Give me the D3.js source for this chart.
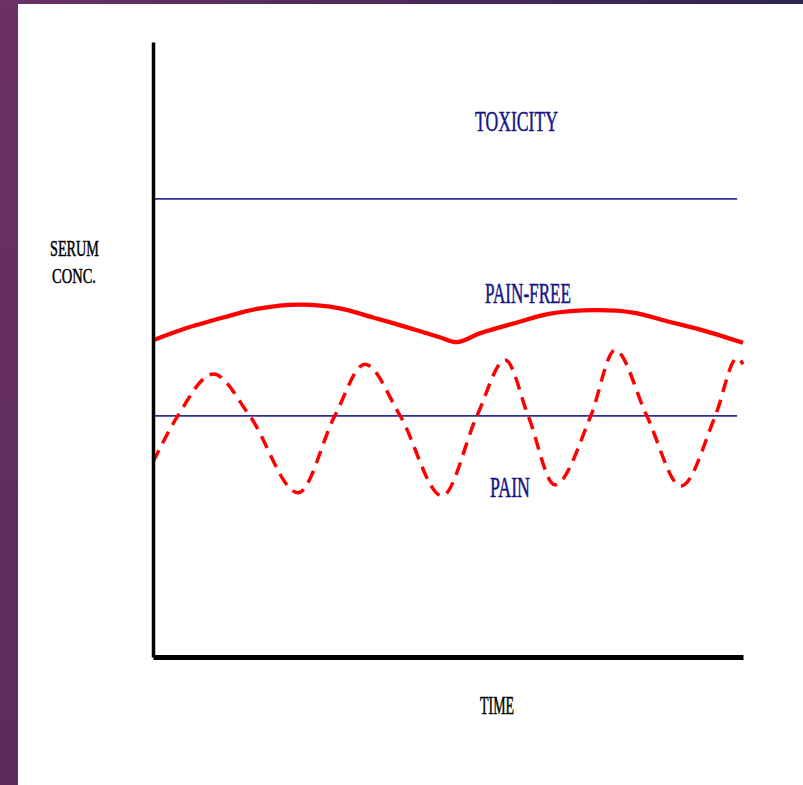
<!DOCTYPE html>
<html>
<head>
<meta charset="utf-8">
<script src="https://cdn.jsdelivr.net/npm/d3@7"></script>
<style>
  body { margin: 0; background: #ffffff; }
  svg { display: block; }
  .lbl { font-family: "Liberation Serif", "DejaVu Serif", serif; }
</style>
</head>
<body>
<script>
// time axis runs 0..100, concentration 0..100 (arbitrary units)
var pain_free_time = [0, 5.1, 11.9, 17.6, 24.9, 31.7, 37.3, 43.1, 48.6, 51.5, 55.6, 61.4, 67.1, 75.1, 81.4, 87.1, 92.9, 100];
var pain_free_conc = [51.5, 53.3, 55.2, 56.6, 57.3, 56.7, 55.2, 53.6, 52.0, 51.2, 52.7, 54.3, 55.8, 56.4, 56.0, 54.6, 53.2, 51.1];

var pain_time = [0, 4.2, 10.2, 16.4, 24.6, 30.8, 35.9, 41.9, 49.0, 54.9, 59.7, 63.6, 68.1, 74.2, 78.3, 83.7, 89.5, 95.3, 99.0, 100];
var pain_conc = [31.7, 39.2, 46.0, 39.2, 26.7, 39.2, 47.6, 39.2, 26.2, 39.2, 48.3, 39.2, 28.0, 39.2, 49.9, 39.2, 27.8, 39.2, 48.6, 47.6];

var toxicity_level = 74.5;
var pain_level = 39.2;
var level_span = [0, 99];

var W = 803, H = 785;

var svg = d3.select("body").append("svg")
  .attr("width", W)
  .attr("height", H);

// purple slide frame
var defs = svg.append("defs");
var g_top = defs.append("linearGradient").attr("id", "topgrad");
g_top.append("stop").attr("offset", "0%").attr("stop-color", "#6b3066");
g_top.append("stop").attr("offset", "100%").attr("stop-color", "#2f2550");
var g_left = defs.append("linearGradient").attr("id", "leftgrad")
  .attr("x1", 0).attr("y1", 0).attr("x2", 0).attr("y2", 1);
g_left.append("stop").attr("offset", "0%").attr("stop-color", "#6b3066");
g_left.append("stop").attr("offset", "100%").attr("stop-color", "#5c2c5e");

svg.append("rect").attr("x", 0).attr("y", 0).attr("width", W).attr("height", 4)
  .attr("fill", "url(#topgrad)");
svg.append("rect").attr("x", 0).attr("y", 0).attr("width", 18).attr("height", H)
  .attr("fill", "url(#leftgrad)");

// scales
var x = d3.scaleLinear().domain([0, 100]).range([153, 743]);
var y = d3.scaleLinear().domain([0, 100]).range([657, 42]);

// reference levels
var levels = [toxicity_level, pain_level];
svg.selectAll("line.level")
  .data(levels)
  .enter()
  .append("line")
  .attr("class", "level")
  .attr("x1", x(level_span[0]))
  .attr("x2", x(level_span[1]))
  .attr("y1", function(d){ return y(d); })
  .attr("y2", function(d){ return y(d); })
  .style("stroke", "#2e2e9c")
  .style("stroke-width", 1.8);

// curves
var line_smooth = d3.line()
  .x(function(d){ return x(d[0]); })
  .y(function(d){ return y(d[1]); })
  .curve(d3.curveCatmullRom.alpha(0.5));

var line_wave = d3.line()
  .x(function(d){ return x(d[0]); })
  .y(function(d){ return y(d[1]); })
  .curve(d3.curveMonotoneX);

var pain_free_pts = pain_free_time.map(function(t, i){ return [t, pain_free_conc[i]]; });
var pain_pts = pain_time.map(function(t, i){ return [t, pain_conc[i]]; });

svg.append("path")
  .datum(pain_free_pts)
  .attr("d", line_smooth)
  .style("fill", "none")
  .style("stroke", "#ff0000")
  .style("stroke-width", 4.3);

svg.append("path")
  .datum(pain_pts)
  .attr("d", line_wave)
  .style("fill", "none")
  .style("stroke", "#ff0000")
  .style("stroke-width", 3.5)
  .style("stroke-dasharray", "13,8");

// axes (no ticks, just the lines)
svg.append("g")
  .attr("transform", "translate(" + x(0) + ",0)")
  .call(d3.axisLeft(y).ticks(0).tickSizeOuter(0))
  .select(".domain")
  .style("stroke", "#000")
  .style("stroke-width", 3.5);

svg.append("g")
  .attr("transform", "translate(0," + y(0) + ")")
  .call(d3.axisBottom(x).ticks(0).tickSizeOuter(0))
  .select(".domain")
  .style("stroke", "#000")
  .style("stroke-width", 5);

// labels
var labels = [
  {t: "TOXICITY",  x: 475, y: 131, len: 83, size: 28.5, c: "#161689"},
  {t: "PAIN-FREE", x: 485, y: 303, len: 86, size: 28.5, c: "#161689"},
  {t: "PAIN",      x: 490, y: 497, len: 40, size: 28.5, c: "#161689"},
  {t: "TIME",      x: 480, y: 714, len: 34, size: 25,   c: "#000000"},
  {t: "SERUM",     x: 50,  y: 256, len: 49, size: 22.5, c: "#000000"},
  {t: "CONC.",     x: 52,  y: 283, len: 44, size: 22,   c: "#000000"}
];

svg.selectAll("text.lbl")
  .data(labels)
  .enter()
  .append("text")
  .attr("class", "lbl")
  .attr("x", function(d){ return d.x; })
  .attr("y", function(d){ return d.y; })
  .attr("textLength", function(d){ return d.len; })
  .attr("lengthAdjust", "spacingAndGlyphs")
  .style("font-size", function(d){ return d.size + "px"; })
  .style("fill", function(d){ return d.c; })
  .style("stroke", function(d){ return d.c; })
  .style("stroke-width", 0.5)
  .text(function(d){ return d.t; });
</script>
</body>
</html>
